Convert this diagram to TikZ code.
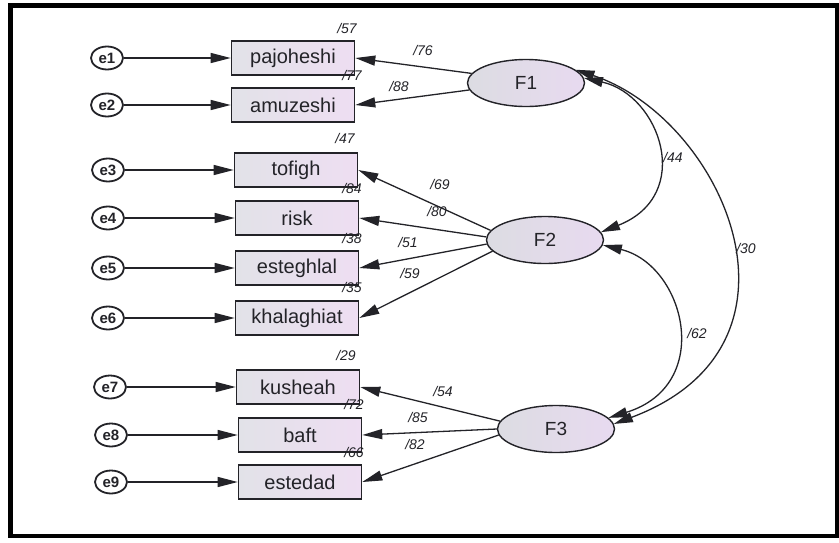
\documentclass[tikz,border=0pt]{standalone}
\usepackage{fontspec}
\setmainfont{Liberation Sans}
\usetikzlibrary{arrows.meta,shapes.geometric}
\definecolor{boxL}{RGB}{226,226,232}
\definecolor{boxR}{RGB}{238,222,242}
\definecolor{ellL}{RGB}{220,220,226}
\definecolor{ellR}{RGB}{232,218,240}
\definecolor{ink}{RGB}{35,35,40}
\tikzset{
  obsbox/.style={draw=ink, line width=1.6pt, minimum width=123pt, minimum height=34pt, inner sep=0pt,
    left color=boxL, right color=boxR, font=\fontsize{20}{22}\selectfont, text=ink},
  errnode/.style={ellipse, draw=ink, line width=1.8pt, minimum width=32pt, minimum height=23pt, inner sep=0pt,
    fill=white, font=\fontsize{15}{16}\selectfont\bfseries, text=ink},
  factor/.style={ellipse, draw=ink, line width=1.4pt, minimum width=117pt, minimum height=47pt, inner sep=0pt,
    left color=ellL, right color=ellR, font=\fontsize{19}{20}\selectfont, text=ink},
  val/.style={font=\fontsize{14}{15}\selectfont\itshape, text=ink, inner sep=0pt},
  path/.style={draw=ink, line width=1.3pt, -{Triangle[length=20pt,width=10pt]}},
  cov/.style={draw=ink, line width=1.3pt, {Triangle[length=19pt,width=10pt]}-{Triangle[length=19pt,width=10pt]}}
}
\begin{document}
\begin{tikzpicture}[x=1pt,y=-1pt]
\useasboundingbox (0,0) rectangle (839,542);
\fill[white] (0,0) rectangle (839,542);
\draw[black, line width=4.5pt] (10.5,5.5) rectangle (837,536);
\draw[black, line width=1.5pt] (12,5.5) -- (12,536);

% observed variables
\node[obsbox] (b1) at (293,58) {pajoheshi};
\node[obsbox] (b2) at (293,105) {amuzeshi};
\node[obsbox] (b3) at (296,170) {tofigh};
\node[obsbox] (b4) at (297,218) {risk};
\node[obsbox] (b5) at (297,268) {esteghlal};
\node[obsbox] (b6) at (297,318) {khalaghiat};
\node[obsbox] (b7) at (298,387) {kusheah};
\node[obsbox] (b8) at (300,435) {baft};
\node[obsbox] (b9) at (300,482) {estedad};

% error terms
\node[errnode] (e1) at (107,58) {e1};
\node[errnode] (e2) at (107,105) {e2};
\node[errnode] (e3) at (108,170) {e3};
\node[errnode] (e4) at (108,218) {e4};
\node[errnode] (e5) at (108,268) {e5};
\node[errnode] (e6) at (108,318) {e6};
\node[errnode] (e7) at (110,387) {e7};
\node[errnode] (e8) at (111,435) {e8};
\node[errnode] (e9) at (111,482) {e9};

\foreach \i in {1,...,9} { \draw[path] (e\i.east) -- (b\i.west); }

% factors
\node[factor] (F1) at (526,83) {F1};
\node[factor] (F2) at (545,240) {F2};
\node[factor] (F3) at (556,429) {F3};

% loadings
\draw[path] (F1.170) -- (b1.east);
\draw[path] (F1.187) -- (b2.east);
\draw[path] (F2.170) -- (b3.east);
\draw[path] (F2.177) -- (b4.east);
\draw[path] (F2.184) -- (b5.east);
\draw[path] (F2.192) -- (b6.east);
\draw[path] (F3.172) -- (b7.east);
\draw[path] (F3.180) -- (b8.east);
\draw[path] (F3.186) -- (b9.east);

% covariances
\draw[cov] (F1.5) .. controls (660,95) and (695,195) .. (F2.8);
\draw[cov] (F1.15) .. controls (722,118) and (825,345) .. (F3.5);
\draw[cov] (F2.355) .. controls (685,265) and (715,385) .. (F3.12);

% values
\node[val] (v57) at (347,28) {/57};
\node[val] (v77) at (352,75) {/77};
\node[val] (v47) at (345,138) {/47};
\node[val] (v84) at (352,188) {/84};
\node[val] (v38) at (352,238) {/38};
\node[val] (v35) at (352,287) {/35};
\node[val] (v29) at (346,355) {/29};
\node[val] (v72) at (354,404) {/72};
\node[val] (v66) at (354,452) {/66};
\node[val] (v76) at (423,50) {/76};
\node[val] (v88) at (399,86) {/88};
\node[val] (v69) at (440,184) {/69};
\node[val] (v80) at (437,211) {/80};
\node[val] (v51) at (408,242) {/51};
\node[val] (v59) at (410,273) {/59};
\node[val] (v54) at (443,391) {/54};
\node[val] (v85) at (418,417) {/85};
\node[val] (v82) at (415,444) {/82};
\node[val] (v44) at (673,157) {/44};
\node[val] (v30) at (746,248) {/30};
\node[val] (v62) at (697,333) {/62};
\end{tikzpicture}
\end{document}
